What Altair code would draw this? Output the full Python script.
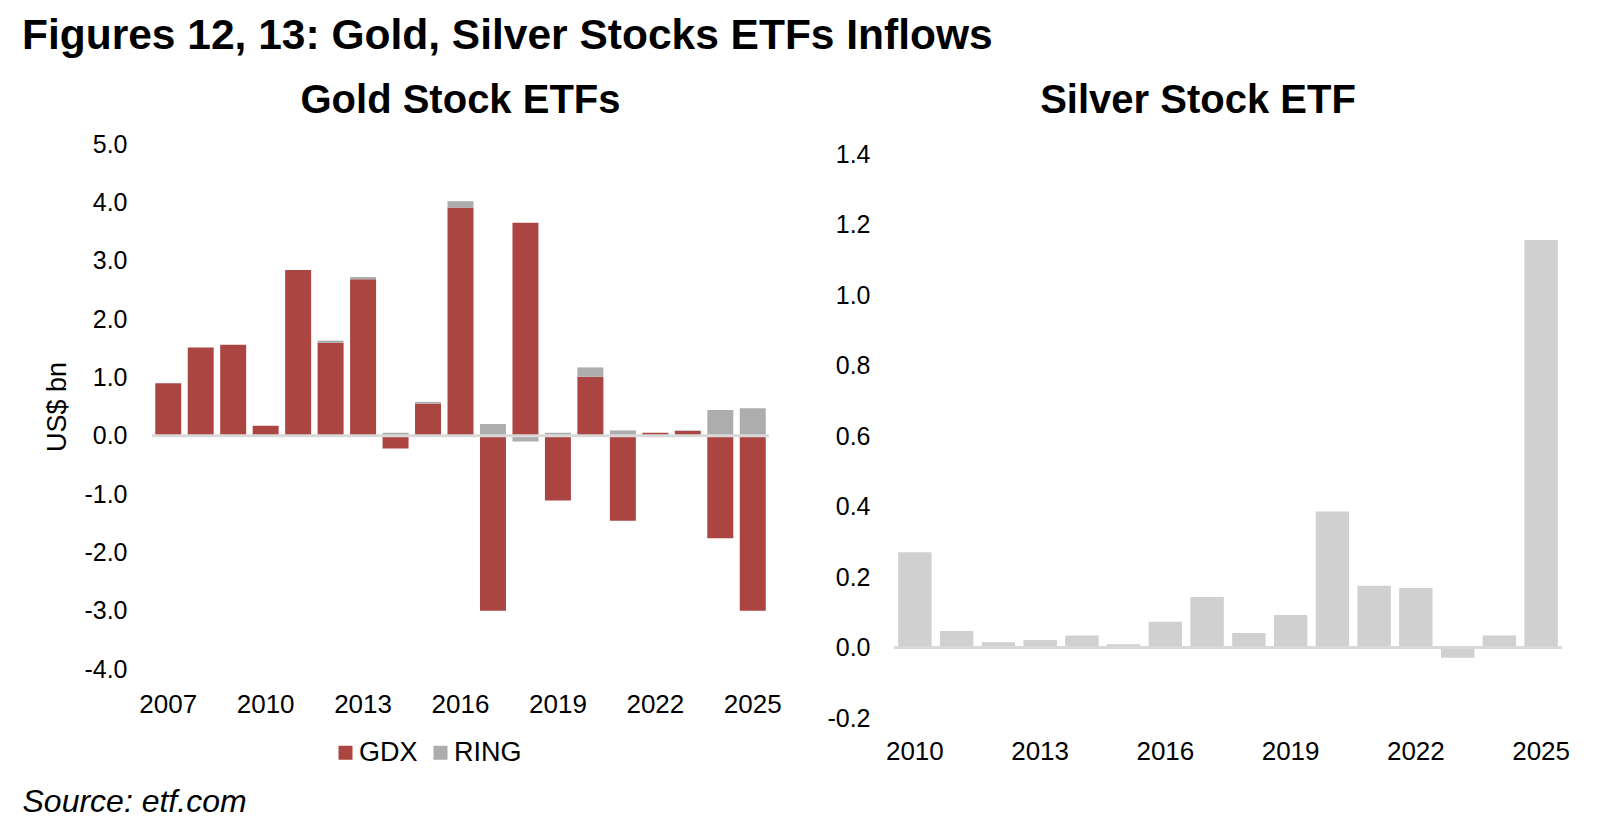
import altair as alt
import pandas as pd

# ---- data ----
gold_years = [2007, 2008, 2009, 2010, 2011, 2012, 2013, 2014, 2015, 2016,
              2017, 2018, 2019, 2020, 2021, 2022, 2023, 2024, 2025]
gdx = [0.90, 1.51, 1.56, 0.17, 2.84, 1.59, 2.68, -0.22, 0.55, 3.91,
       -3.00, 3.65, -1.11, 1.01, -1.46, 0.05, 0.08, -1.76, -3.00]
ring = [0.00, 0.00, 0.00, 0.00, 0.00, 0.04, 0.04, 0.05, 0.03, 0.11,
        0.20, -0.10, 0.05, 0.16, 0.09, 0.00, 0.01, 0.44, 0.47]
silver_years = list(range(2010, 2026))
silver = [0.270, 0.047, 0.015, 0.021, 0.034, 0.009, 0.073, 0.143, 0.041, 0.092,
          0.386, 0.175, 0.169, -0.029, 0.034, 1.156]

gold_ticks = [2007, 2010, 2013, 2016, 2019, 2022, 2025]
silver_ticks = [2010, 2013, 2016, 2019, 2022, 2025]

RED = "#AB4542"
GRAY = "#ADADAD"
LIGHT = "#D0D0D0"
ZERO = "#D9D9D9"
FONT = "Liberation Sans"

gold_df = pd.DataFrame(
    [{"year": y, "series": "GDX", "value": v, "ord": 0} for y, v in zip(gold_years, gdx)]
    + [{"year": y, "series": "RING", "value": v, "ord": 1} for y, v in zip(gold_years, ring)]
)
silver_df = pd.DataFrame({"year": silver_years, "value": silver})
zero_df = pd.DataFrame({"y": [0]})

minus_fix = "replace(format(datum.value, '.1f'), '\u2212', '-')"

GOLD_H = 538     # plot data area spans 13 .. 538
SILVER_H = 587   # plot data area spans 23 .. 587

gold_bars = alt.Chart(gold_df).mark_bar().encode(
    x=alt.X("year:O",
            scale=alt.Scale(paddingInner=0.2, paddingOuter=0.1),
            axis=alt.Axis(values=gold_ticks, labelAngle=0, ticks=False, domain=False,
                          labelPadding=22, labelFontSize=26, labelColor="#000",
                          title="Source: etf.com", titleX=-130, titleY=132,
                          titleAlign="left", titleBaseline="middle",
                          titleFontSize=32, titleFontStyle="italic",
                          titleFontWeight="normal", titleColor="#000")),
    y=alt.Y("value:Q", stack="zero",
            scale=alt.Scale(domain=[-4, 5], nice=False, zero=False, range=[GOLD_H, 13]),
            axis=alt.Axis(values=list(range(-4, 6)), labelExpr=minus_fix,
                          grid=False, ticks=False, domain=False, labelPadding=25,
                          labelFontSize=25, labelColor="#000",
                          title="US$ bn", titleFontSize=27, titleFontWeight="normal",
                          titleColor="#000", titlePadding=12)),
    color=alt.Color("series:N",
                    scale=alt.Scale(domain=["GDX", "RING"], range=[RED, GRAY]),
                    legend=alt.Legend(orient="none", legendX=180, legendY=608,
                                      direction="horizontal", title=None,
                                      labelFontSize=27, labelColor="#000",
                                      symbolType="square", symbolSize=196,
                                      symbolStrokeWidth=0, columnPadding=9,
                                      labelOffset=0, padding=0)),
    order=alt.Order("ord:Q"),
)
gold_zero = alt.Chart(zero_df).mark_rule(color=ZERO, strokeWidth=3).encode(y="y:Q")

gold = alt.layer(gold_bars, gold_zero).properties(
    width=617, height=GOLD_H,
    title=alt.TitleParams("Gold Stock ETFs", fontSize=40, fontWeight="bold",
                          offset=10, color="#000"),
)

silver_bars = alt.Chart(silver_df).mark_bar(color=LIGHT).encode(
    x=alt.X("year:O",
            scale=alt.Scale(paddingInner=0.2, paddingOuter=0.1),
            axis=alt.Axis(values=silver_ticks, labelAngle=0, ticks=False, domain=False,
                          labelPadding=20, labelFontSize=26, labelColor="#000",
                          title=None)),
    y=alt.Y("value:Q",
            scale=alt.Scale(domain=[-0.2, 1.4], nice=False, zero=False, range=[SILVER_H, 23]),
            axis=alt.Axis(values=[-0.2, 0, 0.2, 0.4, 0.6, 0.8, 1.0, 1.2, 1.4],
                          labelExpr=minus_fix, grid=False, ticks=False, domain=False,
                          labelPadding=24, labelFontSize=25, labelColor="#000",
                          title=None)),
)
silver_zero = alt.Chart(zero_df).mark_rule(color=ZERO, strokeWidth=3).encode(y="y:Q")

silver_chart = alt.layer(silver_bars, silver_zero).properties(
    width=668, height=SILVER_H,
    title=alt.TitleParams("Silver Stock ETF", fontSize=40, fontWeight="bold",
                          offset=10, dx=-30, color="#000"),
)

chart = alt.hconcat(gold, silver_chart, spacing=125, bounds="flush").resolve_scale(
    y="independent", x="independent", color="independent"
).properties(
    title=alt.TitleParams("Figures 12, 13: Gold, Silver Stocks ETFs Inflows",
                          fontSize=42.5, fontWeight="bold", anchor="start",
                          color="#000", offset=24),
    padding={"left": 14, "top": 6, "right": 5, "bottom": 5},
).configure(font=FONT).configure_view(stroke=None)

chart.save("out.html", embed_options={"renderer": "svg", "actions": False})
